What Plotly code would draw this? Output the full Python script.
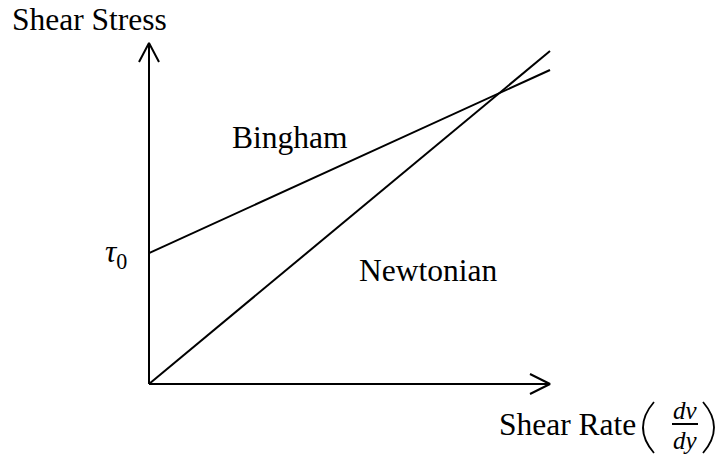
import plotly.graph_objects as go

# ---- data ----
shear_rate = [0, 10]
newtonian_stress = [0, 10]
tau0 = 3.93
bingham_stress = [tau0, 9.43]
x_axis_max = 10.0
y_axis_max = 10.24

# ---- layout geometry (pixels) ----
W, H = 718, 455
ORIG_X, ORIG_Y = 149, 384
PX_PER_X, PX_PER_Y = 40.1, 33.3
x_range = [-ORIG_X / PX_PER_X, (W - ORIG_X) / PX_PER_X]
y_range = [-(H - ORIG_Y) / PX_PER_Y, ORIG_Y / PX_PER_Y]


def px2x(px):
    return (px - ORIG_X) / PX_PER_X


def px2y(py):
    return (ORIG_Y - py) / PX_PER_Y


FONT = "Liberation Serif"
FS = 31.5
LW = 2
fig = go.Figure()

line_style = dict(color="black", width=LW)

# axes
fig.add_trace(go.Scatter(x=[0, 0], y=[0, y_axis_max], mode="lines", line=line_style, hoverinfo="skip"))
fig.add_trace(go.Scatter(x=[0, x_axis_max], y=[0, 0], mode="lines", line=line_style, hoverinfo="skip"))
# arrow heads (open chevrons)
bw_y, bl_y = 10 / PX_PER_X, 19 / PX_PER_Y
fig.add_trace(go.Scatter(x=[-bw_y, 0, bw_y], y=[y_axis_max - bl_y, y_axis_max, y_axis_max - bl_y],
                         mode="lines", line=line_style, hoverinfo="skip"))
bl_x, bw_x = 20 / PX_PER_X, 10 / PX_PER_Y
fig.add_trace(go.Scatter(x=[x_axis_max - bl_x, x_axis_max, x_axis_max - bl_x], y=[bw_x, 0, -bw_x],
                         mode="lines", line=line_style, hoverinfo="skip"))

# fluid lines
fig.add_trace(go.Scatter(x=shear_rate, y=bingham_stress, mode="lines", line=line_style, name="Bingham",
                         hoverinfo="skip"))
fig.add_trace(go.Scatter(x=shear_rate, y=newtonian_stress, mode="lines", line=line_style, name="Newtonian",
                         hoverinfo="skip"))


def label(text, px, py, size=FS, xanchor="center"):
    fig.add_annotation(x=px2x(px), y=px2y(py), text=text, showarrow=False, xanchor=xanchor,
                       yanchor="middle", font=dict(family=FONT, size=size, color="black"))


label("Shear Stress", 10, 19, xanchor="left")
label("Bingham", 290, 137)
label("Newtonian", 428, 270)
label("<i>τ</i><sub>0</sub>", 116, 254)
label("Shear Rate", 567, 424)
# fraction (dv/dy)
label("<i>dv</i>", 685, 410, size=25)
label("<i>dy</i>", 685, 440, size=25)
fig.add_shape(type="line", x0=px2x(672), x1=px2x(698), y0=px2y(424), y1=px2y(424),
              line=dict(color="black", width=2))


def paren_path(x_end, x_mid, y_top, y_bot):
    ctrl = 2 * x_mid - x_end
    ym = (y_top + y_bot) / 2
    return (f"M {px2x(x_end)},{px2y(y_top)} Q {px2x(ctrl)},{px2y(ym)} {px2x(x_end)},{px2y(y_bot)}")


fig.add_shape(type="path", path=paren_path(654, 643, 402, 453), line=dict(color="black", width=1.8))
fig.add_shape(type="path", path=paren_path(703, 714, 402, 453), line=dict(color="black", width=1.8))

fig.update_layout(
    width=W, height=H, margin=dict(l=0, r=0, t=0, b=0),
    paper_bgcolor="white", plot_bgcolor="white", showlegend=False, hovermode=False,
    xaxis=dict(range=x_range, visible=False, fixedrange=True),
    yaxis=dict(range=y_range, visible=False, fixedrange=True),
)
fig.write_html("out.html", config={"displayModeBar": False, "staticPlot": True},
               post_script="document.body.style.margin='0px';document.body.style.overflow='hidden';")
